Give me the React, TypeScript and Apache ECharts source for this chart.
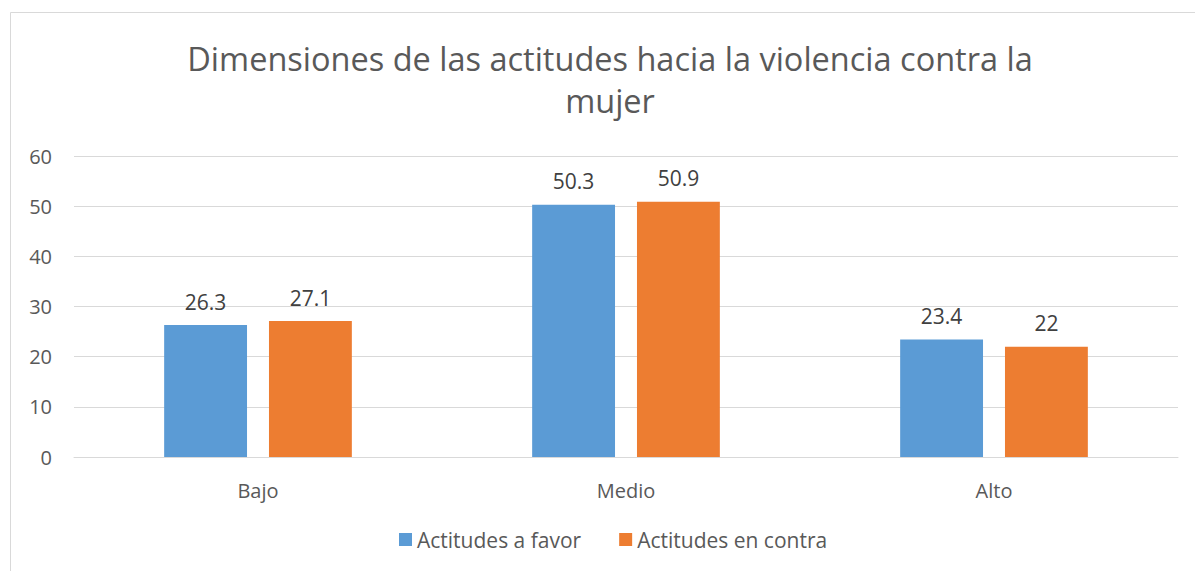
import React, { useEffect, useRef } from "react";
import * as echarts from "echarts";

const categories = ["Bajo", "Medio", "Alto"];
const seriesNames = ["Actitudes a favor", "Actitudes en contra"];
const favor = [26.3, 50.3, 23.4];
const contra = [27.1, 50.9, 22];
const titleText = "Dimensiones de las actitudes hacia la violencia contra la\nmujer";

export default function App() {
  const ref = useRef<HTMLDivElement>(null);
  useEffect(() => {
    document.body.style.margin = "0";
    const chart = echarts.init(ref.current!, null, { renderer: "svg" });
    const font = "'Open Sans', 'Noto Sans', sans-serif";
    chart.setOption({
      animation: false,
      textStyle: { fontFamily: font },
      title: {
        text: titleText,
        left: 605,
        top: 32,
        textAlign: "center",
        textStyle: { fontSize: 32.5, fontWeight: "normal", color: "#595959", lineHeight: 42, fontFamily: font },
      },
      graphic: [
        {
          type: "rect",
          shape: { x: 10.5, y: 12.5, width: 1300, height: 700 },
          style: { fill: "none", stroke: "#d9d9d9", lineWidth: 1 },
          silent: true,
        },
      ],
      legend: {
        data: seriesNames,
        bottom: 16,
        left: 394,
        itemWidth: 13,
        itemHeight: 13,
        itemGap: 38,
        icon: "rect",
        textStyle: { fontSize: 21, color: "#595959", fontFamily: font },
      },
      grid: { left: 74, right: 17, top: 156, bottom: 114, containLabel: false },
      xAxis: {
        type: "category",
        data: categories,
        axisLine: { lineStyle: { color: "#d9d9d9" } },
        axisTick: { show: false },
        axisLabel: { fontSize: 20, color: "#595959", margin: 23, fontFamily: font },
      },
      yAxis: {
        type: "value",
        min: 0,
        max: 60,
        interval: 10,
        axisLine: { show: false },
        axisTick: { show: false },
        axisLabel: { fontSize: 20, color: "#595959", margin: 22, fontFamily: font },
        splitLine: { lineStyle: { color: "#d9d9d9", width: 1 } },
      },
      series: [
        {
          name: seriesNames[0],
          type: "bar",
          data: favor,
          barGap: "26.5%",
          barCategoryGap: "49%",
          itemStyle: { color: "#5B9BD5" },
          label: { show: true, position: "top", distance: 13, fontSize: 21, color: "#404040", fontFamily: font },
        },
        {
          name: seriesNames[1],
          type: "bar",
          data: contra,
          barGap: "26.5%",
          barCategoryGap: "49%",
          itemStyle: { color: "#ED7D31" },
          label: { show: true, position: "top", distance: 13, fontSize: 21, color: "#404040", fontFamily: font },
        },
      ],
    });
    return () => chart.dispose();
  }, []);
  return <div ref={ref} style={{ width: 1195, height: 571 }} />;
}
